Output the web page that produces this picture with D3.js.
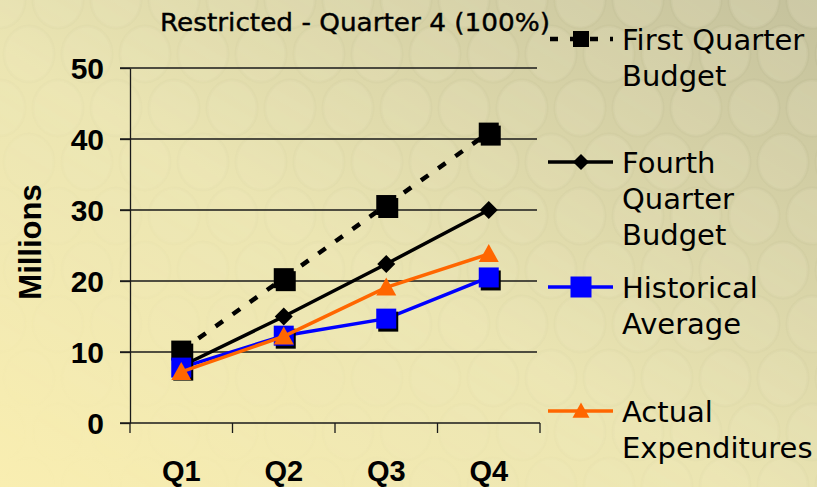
<!DOCTYPE html>
<html>
<head>
<meta charset="utf-8">
<script src="https://cdn.jsdelivr.net/npm/d3@7"></script>
<style>
  html, body { margin: 0; padding: 0; overflow: hidden; }
  svg { display: block; }
</style>
</head>
<body>
<script>
// data
var quarters = ["Q1", "Q2", "Q3", "Q4"];
var firstQuarterBudget = [10.2, 20.4, 30.7, 40.9];
var fourthQuarterBudget = [8.0, 15.0, 22.4, 30.0];
var historicalAverage = [7.8, 12.3, 14.7, 20.5];
var actualExpenditures = [7.2, 12.2, 19.1, 23.8];
var yTicks = [0, 10, 20, 30, 40, 50];
var title = "Restricted  - Quarter 4 (100%)";
var yTitle = "Millions";

var W = 817, H = 487;

var svg = d3.select("body").append("svg")
  .attr("width", W)
  .attr("height", H);

var defs = svg.append("defs");
var bg = defs.append("linearGradient").attr("id", "bg")
  .attr("x1", "0").attr("y1", "1").attr("x2", "1").attr("y2", "0");
bg.append("stop").attr("offset", "0%").attr("stop-color", "#f9eeb1");
bg.append("stop").attr("offset", "45%").attr("stop-color", "#ebe5b2");
bg.append("stop").attr("offset", "100%").attr("stop-color", "#c4c19c");

var fade = defs.append("linearGradient").attr("id", "fade")
  .attr("x1", "0").attr("y1", "1").attr("x2", "1").attr("y2", "0");
fade.append("stop").attr("offset", "0%").attr("stop-color", "#fff").attr("stop-opacity", 0);
fade.append("stop").attr("offset", "35%").attr("stop-color", "#fff").attr("stop-opacity", 0.25);
fade.append("stop").attr("offset", "100%").attr("stop-color", "#fff").attr("stop-opacity", 1);
defs.append("mask").attr("id", "fadeMask")
  .append("rect").attr("width", W).attr("height", H).attr("fill", "url(#fade)");

svg.append("rect").attr("width", W).attr("height", H).attr("fill", "url(#bg)");

// bokeh circles in the background
var bokeh = svg.append("g").attr("mask", "url(#fadeMask)");
for (var row = 0; row < 10; row++) {
  for (var col = 0; col < 15; col++) {
    bokeh.append("ellipse")
      .attr("cx", col * 58 + (row % 2) * 29)
      .attr("cy", row * 54)
      .attr("rx", 25).attr("ry", 28)
      .attr("fill", "#fffbe0").attr("fill-opacity", 0.15)
      .attr("stroke", "#9c9670").attr("stroke-opacity", 0.08).attr("stroke-width", 3);
  }
}

var x = d3.scaleBand().domain(quarters).range([130, 540]);
var y = d3.scaleLinear().domain([0, 50]).range([423, 68]);

// gridlines
svg.append("g").selectAll("line").data(yTicks.filter(function(d) { return d > 0; }))
  .enter().append("line")
  .attr("x1", 120).attr("x2", 537)
  .attr("y1", function(d) { return y(d); }).attr("y2", function(d) { return y(d); })
  .attr("stroke", "#1a1a1a").attr("stroke-width", 1.3);

// y axis
var yAxis = svg.append("g")
  .attr("transform", "translate(130,0)")
  .call(d3.axisLeft(y).tickValues(yTicks).tickSizeInner(10).tickSizeOuter(0).tickPadding(16));
yAxis.select(".domain").attr("stroke", "#1a1a1a").attr("stroke-width", 1.3);
yAxis.selectAll(".tick line").attr("stroke", "#1a1a1a").attr("stroke-width", 1.3);
yAxis.selectAll(".tick text")
  .attr("font-family", "Liberation Sans, Arial, sans-serif")
  .attr("font-weight", "bold").attr("font-size", 30).attr("fill", "#000")
  .attr("dy", "0.36em");

// x axis baseline and ticks at band edges
svg.append("line").attr("x1", 120).attr("x2", 540).attr("y1", y(0)).attr("y2", y(0))
  .attr("stroke", "#1a1a1a").attr("stroke-width", 1.3);
var edges = quarters.map(function(q) { return x(q); }).concat([x.range()[1]]);
svg.append("g").selectAll("line").data(edges).enter().append("line")
  .attr("x1", function(d) { return d; }).attr("x2", function(d) { return d; })
  .attr("y1", y(0)).attr("y2", y(0) + 10)
  .attr("stroke", "#1a1a1a").attr("stroke-width", 1.3);
svg.append("g").selectAll("text").data(quarters).enter().append("text")
  .attr("x", function(d) { return x(d) + x.bandwidth() / 2; })
  .attr("y", 481)
  .attr("text-anchor", "middle")
  .attr("font-family", "Liberation Sans, Arial, sans-serif")
  .attr("font-weight", "bold").attr("font-size", 29)
  .text(function(d) { return d; });

// axis title
svg.append("text")
  .attr("transform", "translate(41,242) rotate(-90)")
  .attr("text-anchor", "middle")
  .attr("font-family", "Liberation Sans, Arial, sans-serif")
  .attr("font-weight", "bold").attr("font-size", 31)
  .text(yTitle);

// chart title
svg.append("text")
  .attr("x", 160).attr("y", 31)
  .attr("font-family", "DejaVu Sans, sans-serif")
  .attr("font-size", 25).attr("fill", "#000")
  .attr("stroke", "#000").attr("stroke-width", 0.4)
  .attr("textLength", 390).attr("lengthAdjust", "spacingAndGlyphs")
  .text(title);

var series = [
  { name: ["First Quarter", "Budget"], values: firstQuarterBudget, color: "#000", dash: "9,12", width: 4.5, marker: "square", size: 20, ly: 39, lsize: 16 },
  { name: ["Fourth", "Quarter", "Budget"], values: fourthQuarterBudget, color: "#000", dash: null, width: 3.5, marker: "diamond", size: 18, ly: 162, lsize: 16 },
  { name: ["Historical", "Average"], values: historicalAverage, color: "#0000ff", dash: null, width: 3.5, marker: "square", size: 20, ly: 287, lsize: 21 },
  { name: ["Actual", "Expenditures"], values: actualExpenditures, color: "#ff6600", dash: null, width: 3.5, marker: "triangle", size: 20, ly: 411, lsize: 17 }
];

function markerPath(type, s) {
  var h = s / 2;
  if (type === "square") return "M" + (-h) + "," + (-h) + "h" + s + "v" + s + "h" + (-s) + "Z";
  if (type === "diamond") return "M0," + (-h) + "L" + h + ",0L0," + h + "L" + (-h) + ",0Z";
  return "M0," + (-h) + "L" + h + "," + (h * 0.8) + "L" + (-h) + "," + (h * 0.8) + "Z";
}

var line = d3.line()
  .x(function(d, i) { return x(quarters[i]) + x.bandwidth() / 2; })
  .y(function(d) { return y(d); });

series.forEach(function(s) {
  var g = svg.append("g");
  g.append("path")
    .attr("d", line(s.values))
    .attr("fill", "none")
    .attr("stroke", s.color)
    .attr("stroke-width", s.width)
    .attr("stroke-dasharray", s.dash);
  var pts = g.selectAll("g.pt").data(s.values).enter().append("g")
    .attr("transform", function(d, i) {
      return "translate(" + (x(quarters[i]) + x.bandwidth() / 2) + "," + y(d) + ")";
    });
  if (s.marker === "square") {
    pts.append("path").attr("d", markerPath(s.marker, s.size))
      .attr("transform", "translate(2,3)").attr("fill", "#000");
  }
  pts.append("path").attr("d", markerPath(s.marker, s.size)).attr("fill", s.color);

  // legend
  var lg = svg.append("g");
  lg.append("line").attr("x1", 548).attr("x2", 613).attr("y1", s.ly).attr("y2", s.ly)
    .attr("stroke", s.color).attr("stroke-width", s.width)
    .attr("stroke-dasharray", s.dash ? "8,12" : null)
    .attr("stroke-dashoffset", s.dash ? -2 : null);
  lg.append("path").attr("d", markerPath(s.marker, s.lsize))
    .attr("transform", "translate(581," + s.ly + ")")
    .attr("fill", s.color);
  lg.selectAll("text").data(s.name).enter().append("text")
    .attr("x", 622)
    .attr("y", function(d, i) { return s.ly + 11 + i * 36; })
    .attr("font-family", "DejaVu Sans, sans-serif")
    .attr("font-size", 29).attr("fill", "#000")
    .text(function(d) { return d; });
});
</script>
</body>
</html>
